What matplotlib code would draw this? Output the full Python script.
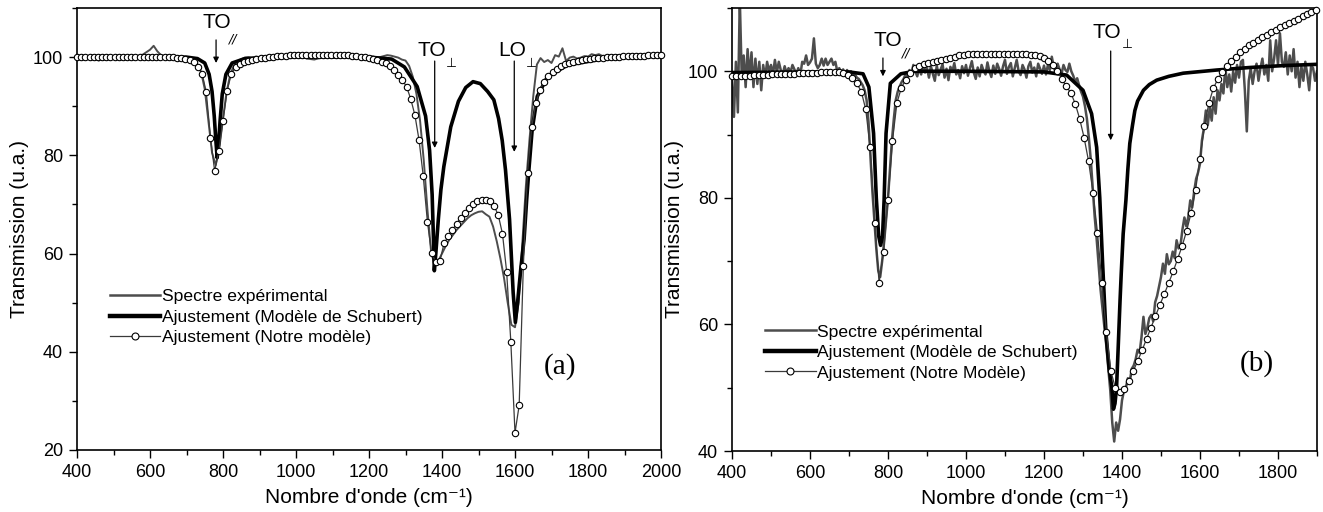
import matplotlib
matplotlib.use("Agg")
import matplotlib.pyplot as plt
import numpy as np
from matplotlib.lines import Line2D
from matplotlib.ticker import MultipleLocator

plt.rcParams["font.family"] = ["Liberation Sans Narrow", "Liberation Sans", "DejaVu Sans"]

# ---------------- panel (a) ----------------
A_EXP_X = np.arange(400, 2001, 10)
A_EXP_Y = [
    100.0, 99.8, 100.1, 99.9, 100.0, 99.6, 99.3, 99.8, 100.1, 99.9,
    100.0, 100.2, 99.9, 100.1, 100.0, 100.2, 99.9, 100.3, 100.5, 101.0,
    101.5, 102.3, 101.2, 100.4, 100.2, 100.0, 100.1, 99.9, 100.0, 99.9,
    99.7, 99.5, 99.2, 98.5, 97.0, 93.5, 87.0, 80.5, 78.0, 81.5,
    87.5, 93.0, 96.5, 98.3, 99.2, 99.6, 99.9, 100.0, 99.9, 100.1,
    100.0, 100.2, 99.9, 100.1, 100.3, 100.0, 99.8, 100.2, 100.1, 100.3,
    100.0, 99.8, 100.1, 99.7, 99.6, 99.5, 99.7, 100.1, 100.4, 100.6,
    100.5, 100.8, 100.4, 100.3, 100.2, 100.1, 100.0, 100.2, 100.1, 100.0,
    100.0, 100.1, 99.9, 100.0, 100.2, 100.4, 100.3, 100.1, 99.9, 99.5,
    99.3, 98.2, 96.0, 92.5, 87.0, 79.0, 69.0, 60.5, 57.5, 58.5,
    60.0, 61.5, 62.8, 63.8, 64.8, 65.6, 66.4, 67.2, 67.8, 68.2,
    68.5, 68.6, 68.0, 67.5, 65.5, 62.5, 59.0, 55.0, 50.0, 45.5,
    45.0, 50.0, 62.0, 74.0, 83.5, 92.0, 98.5, 99.8, 99.0, 99.4,
    98.8, 100.4, 100.1, 101.8, 99.2, 99.9, 100.1, 99.7, 99.9, 100.2,
    100.1, 100.6, 100.4, 100.6, 100.2, 100.2, 100.3, 100.3, 100.4, 100.4,
    100.4, 100.4, 100.4, 100.5, 100.5, 100.5, 100.5, 100.5, 100.5, 100.5, 100.5,
]

A_SCH_X = [400, 700, 730, 750, 762, 770, 776, 780, 784, 788, 792, 798, 808, 825,
           860, 1000, 1200, 1262, 1297, 1332, 1355, 1366, 1373, 1377, 1379, 1383,
           1390, 1397, 1405, 1424, 1445, 1465, 1485, 1505, 1525, 1542, 1555, 1565,
           1574, 1585, 1595, 1601, 1607, 1616, 1625, 1632, 1638, 1647, 1661, 1689,
           1744, 1854, 2000]
A_SCH_Y = [100.0, 100.0, 99.7, 98.8, 96.5, 93.0, 88.0, 83.5, 79.5, 82.5, 87.0, 92.5,
           96.5, 98.8, 99.7, 100.0, 100.0, 99.6, 98.0, 94.0, 88.0, 81.0, 72.0, 62.0,
           56.5, 60.0, 67.0, 73.0, 77.7, 85.8, 91.0, 93.8, 95.0, 94.6, 93.0, 91.3,
           87.5, 83.0, 77.0, 67.0, 52.0, 46.0, 50.0, 57.0, 63.0, 71.0, 77.0, 85.2,
           92.0, 96.0, 98.4, 99.8, 100.2]

# model sampled on 141 points between 400 and 2000
A_MOD_X = np.linspace(400, 2000, 141)
A_MOD_Y = [
    100.0, 100.0, 100.0, 100.0, 100.0, 100.0, 100.0, 100.0, 100.0, 100.0,
    100.0, 100.0, 100.0, 100.0, 100.0, 100.0, 100.0, 100.0, 100.0, 100.0,
    100.0, 100.0, 100.0, 99.95, 99.9, 99.8, 99.7, 99.4, 99.0, 97.9,
    96.6, 92.8, 83.6, 76.8, 80.9, 87.0, 93.2, 96.6, 97.9, 98.6,
    99.0, 99.3, 99.5, 99.7, 99.8, 99.9, 100.0, 100.1, 100.2, 100.25,
    100.3, 100.35, 100.4, 100.4, 100.45, 100.45, 100.5, 100.5, 100.5, 100.5,
    100.5, 100.5, 100.5, 100.45, 100.4, 100.35, 100.3, 100.2, 100.1, 100.0,
    99.8, 99.6, 99.4, 99.1, 98.7, 98.2, 97.4, 96.4, 95.3, 94.0,
    91.5, 88.2, 83.1, 75.8, 66.5, 60.1, 58.3, 58.5, 62.1, 63.5,
    64.8, 66.1, 67.2, 68.2, 69.2, 70.1, 70.7, 71.0, 71.0, 70.6,
    69.7, 67.8, 64.0, 56.3, 42.0, 23.5, 29.1, 57.5, 76.5, 85.8,
    90.7, 93.4, 95.0, 96.2, 97.0, 97.6, 98.1, 98.5, 98.8, 99.1,
    99.3, 99.45, 99.6, 99.7, 99.8, 99.85, 99.9, 99.95, 100.0, 100.05,
    100.1, 100.15, 100.2, 100.2, 100.25, 100.3, 100.3, 100.35, 100.35, 100.4,
    100.4,
]

# ---------------- panel (b) ----------------
B_EXP_X = np.arange(400, 1901, 5)
B_EXP_Y = [
    99.0, 92.8, 101.5, 93.5, 111.5, 99.0, 102.5, 97.5, 103.5, 99.0,
    103.0, 97.5, 102.0, 98.0, 101.5, 97.0, 101.0, 99.0, 101.5, 100.0,
    101.0, 99.5, 101.8, 99.8, 101.5, 100.2, 99.5, 100.8, 99.7, 100.5,
    99.8, 101.0, 100.3, 99.6, 100.5, 99.3, 101.5, 101.2, 102.5, 101.0,
    101.4, 102.0, 105.2, 101.2, 100.5, 101.0, 102.0, 100.9, 102.0, 101.0,
    101.5, 102.0, 101.0, 101.5, 100.0, 100.5, 99.8, 100.3, 99.6, 100.2,
    99.5, 100.0, 99.3, 99.6, 99.0, 98.8, 98.3, 97.8, 97.0, 95.5,
    92.0, 86.5, 81.0, 76.5, 72.0, 68.5, 67.5, 70.0, 73.0, 76.5,
    80.0, 84.5, 89.0, 92.5, 95.5, 96.8, 97.6, 98.3, 98.8, 99.5,
    98.7, 100.2, 99.5, 101.0, 100.0, 99.2, 100.6, 99.5, 101.2, 99.8,
    100.5, 99.0, 100.8, 99.6, 98.5, 100.9, 99.4, 100.3, 101.1, 99.0,
    100.4, 98.6, 100.7, 99.9, 101.3, 99.5, 100.2, 98.9, 100.8, 99.7,
    101.0, 99.3, 100.5, 101.6, 99.8, 98.8, 100.6, 99.2, 101.0, 100.1,
    99.5, 101.4, 100.0, 99.1, 100.9, 99.6, 101.2, 100.4, 99.3, 100.8,
    101.8, 99.6, 100.7, 101.3, 99.2, 100.5, 101.8, 100.0, 99.4, 101.0,
    100.3, 99.0, 100.8, 101.5, 99.8, 100.6, 99.2, 101.2, 100.4, 99.6,
    100.9, 99.5, 101.0, 100.2, 102.3, 100.7, 99.8, 101.2, 100.3, 99.6,
    101.0, 100.2, 99.9, 101.2, 100.0, 99.3, 98.3, 98.9, 97.8, 96.8,
    96.0, 94.5, 92.5, 89.5, 86.0, 81.5, 77.0, 73.5, 69.5, 65.5,
    62.5, 59.5, 56.5, 53.0, 49.5, 44.5, 41.5, 44.5, 43.2, 45.0,
    48.0, 49.5, 50.0, 51.5, 51.0, 53.0, 53.5, 54.5, 56.0, 55.5,
    58.0, 61.2, 58.5, 59.5, 61.0, 61.5, 60.5, 63.5, 64.5, 66.0,
    67.5, 69.6, 68.0, 71.1, 69.5, 70.0, 71.5, 70.5, 73.3, 72.0,
    72.5, 75.0, 76.9, 75.5, 77.0, 79.6, 78.5, 81.0, 83.0, 84.0,
    85.4, 89.1, 91.0, 93.8, 91.5, 94.3, 92.2, 95.9, 93.3, 97.0,
    95.4, 98.0, 96.5, 100.7, 97.5, 99.5, 96.8, 100.0, 98.2, 101.0,
    99.0, 101.5, 101.8, 97.0, 90.5, 98.5, 100.5, 98.0, 100.0, 101.2,
    98.5, 100.5, 102.0, 99.5, 101.0, 98.5, 104.9, 100.0, 102.0, 104.9,
    101.0, 106.0, 101.5, 100.7, 103.0, 99.5, 102.5, 100.0, 103.5, 99.0,
    101.5, 97.5, 100.8, 98.5, 101.5, 99.5, 97.0, 101.0, 100.5, 98.5, 100.0,
]

B_SCH_X = [400, 600, 700, 736, 751, 763, 770, 776, 781, 786, 790, 795, 806, 833,
           866, 1000, 1200, 1258, 1300, 1322, 1335, 1343, 1350, 1359, 1367, 1374,
           1378, 1382, 1386, 1390, 1395, 1398, 1403, 1410, 1415, 1420, 1427, 1433,
           1440, 1455, 1470, 1489, 1520, 1557, 1643, 1728, 1814, 1900]
B_SCH_Y = [99.8, 99.9, 99.9, 99.6, 97.5, 90.2, 80.0, 74.0, 72.5, 74.0, 79.6, 90.2,
           98.1, 99.6, 100.0, 100.0, 99.9, 99.4, 97.0, 93.3, 88.0, 80.0, 70.0, 58.5,
           53.0, 50.0, 46.6, 47.5, 50.0, 56.0, 63.8, 68.0, 74.3, 79.6, 84.5, 88.6,
           91.5, 93.8, 95.3, 97.0, 97.9, 98.6, 99.2, 99.7, 100.2, 100.6, 100.9, 101.1]

B_MOD_X = np.linspace(400, 2000, 141)[:132]
B_MOD_Y = [
    99.2, 99.2, 99.25, 99.3, 99.3, 99.35, 99.4, 99.4, 99.45, 99.5,
    99.5, 99.55, 99.6, 99.6, 99.65, 99.7, 99.7, 99.75, 99.8, 99.8,
    99.85, 99.85, 99.9, 99.9, 99.85, 99.7, 99.4, 98.9, 98.1, 96.8,
    94.0, 88.0, 76.0, 66.6, 71.5, 79.6, 89.0, 95.0, 97.4, 98.7,
    99.7, 100.5, 100.9, 101.1, 101.3, 101.5, 101.7, 101.8, 101.9, 102.1,
    102.3, 102.5, 102.6, 102.7, 102.8, 102.8, 102.8, 102.8, 102.8, 102.8,
    102.8, 102.8, 102.8, 102.8, 102.8, 102.75, 102.7, 102.6, 102.5, 102.4,
    102.1, 101.7, 101.0, 100.0, 98.8, 97.6, 96.6, 94.9, 92.5, 89.5,
    85.8, 80.8, 74.5, 66.5, 58.8, 52.6, 50.0, 49.3, 49.8, 51.0,
    52.6, 54.2, 55.9, 57.7, 59.5, 61.3, 63.1, 64.8, 66.6, 68.4,
    70.4, 72.4, 74.8, 77.6, 81.2, 86.2, 91.3, 95.0, 97.3, 98.8,
    99.9, 100.8, 101.6, 102.3, 103.0, 103.6, 104.1, 104.5, 105.0, 105.4,
    105.8, 106.2, 106.6, 107.0, 107.3, 107.6, 108.0, 108.3, 108.7, 109.0,
    109.4, 109.7,
]

EXP_COLOR = "#4d4d4d"
MOD_COLOR = "#3a3a3a"
XLABEL = "Nombre d'onde (cm\u207b\u00b9)"


def draw_panel(ax, exp_x, exp_y, sch_x, sch_y, mod_x, mod_y, exp_lw):
    ax.plot(exp_x, exp_y, color=EXP_COLOR, lw=exp_lw, zorder=2)
    ax.plot(sch_x, sch_y, color="black", lw=2.6, zorder=3)
    ax.plot(mod_x, mod_y, color=MOD_COLOR, lw=0.9, marker="o", ms=4.6,
            mfc="white", mec="black", mew=0.8, zorder=4, clip_on=False)
    for s in ax.spines.values():
        s.set_linewidth(1.2)
    ax.tick_params(which="both", direction="out", labelsize=13, width=1.0, pad=4)
    ax.tick_params(which="major", length=6)
    ax.tick_params(which="minor", length=3.5)
    ax.set_xlabel(XLABEL, fontsize=15, labelpad=5)
    ax.set_ylabel("Transmission (u.a.)", fontsize=15, labelpad=3)


def label(ax, main, sub, x, y, xs, ys, xa, ya0, ya1):
    ax.text(x, y, main, ha="center", va="center", fontsize=15)
    ax.text(xs, ys, sub, ha="center", va="center", fontsize=9,
            family=["DejaVu Sans"], style="italic" if sub == "//" else "normal")
    ax.annotate("", xy=(xa, ya1), xytext=(xa, ya0),
                arrowprops=dict(arrowstyle="-|>", color="black", lw=0.9,
                                mutation_scale=8, shrinkA=0, shrinkB=0))


def legend(ax, labels, anchor):
    handles = [
        Line2D([], [], color=EXP_COLOR, lw=1.8),
        Line2D([], [], color="black", lw=3.2),
        Line2D([], [], color=MOD_COLOR, lw=0.9, marker="o", ms=5,
               mfc="white", mec="black", mew=0.8),
    ]
    ax.legend(handles, labels, loc="upper left", bbox_to_anchor=anchor,
              frameon=False, fontsize=12.6, handlelength=2.9, handletextpad=0.1,
              labelspacing=0.3, borderaxespad=0, borderpad=0, markerscale=1,
              numpoints=1)


fig = plt.figure(figsize=(13.23, 5.12), dpi=100)
ax1 = fig.add_axes([77 / 1323, 62 / 512, 584 / 1323, 442 / 512])
ax2 = fig.add_axes([732 / 1323, 61 / 512, 585 / 1323, 443 / 512])

draw_panel(ax1, A_EXP_X, A_EXP_Y, A_SCH_X, A_SCH_Y, A_MOD_X, A_MOD_Y, 1.4)
ax1.set_xlim(400, 2000)
ax1.set_ylim(20, 110)
ax1.xaxis.set_major_locator(MultipleLocator(200))
ax1.xaxis.set_minor_locator(MultipleLocator(100))
ax1.yaxis.set_major_locator(MultipleLocator(20))
ax1.yaxis.set_minor_locator(MultipleLocator(10))
label(ax1, "TO", "//", 782, 107.1, 828, 103.6, 781, 103.5, 98.8)
label(ax1, "TO", "\u22a5", 1372, 101.4, 1425, 98.8, 1380, 99.2, 81.5)
label(ax1, "LO", "\u22a5", 1591, 101.4, 1646, 98.8, 1598, 99.2, 80.7)
ax1.text(1723, 37, "(a)", ha="center", va="center", fontsize=21,
         family=["Liberation Serif"])
legend(ax1, ["Spectre expérimental", "Ajustement (Modèle de Schubert)",
             "Ajustement (Notre modèle)"], (0.056, 0.364))

draw_panel(ax2, B_EXP_X, B_EXP_Y, B_SCH_X, B_SCH_Y, B_MOD_X, B_MOD_Y, 1.8)
ax2.set_xlim(400, 1900)
ax2.set_ylim(40, 110)
ax2.xaxis.set_major_locator(MultipleLocator(200))
ax2.xaxis.set_minor_locator(MultipleLocator(100))
ax2.yaxis.set_major_locator(MultipleLocator(20))
ax2.yaxis.set_minor_locator(MultipleLocator(10))
label(ax2, "TO", "//", 800, 104.9, 846, 102.9, 787, 102.1, 99.2)
label(ax2, "TO", "\u22a5", 1362, 106.2, 1413, 104.2, 1371, 103.2, 89.1)
ax2.text(1746, 53.8, "(b)", ha="center", va="center", fontsize=21,
         family=["Liberation Serif"])
legend(ax2, ["Spectre expérimental", "Ajustement (Modèle de Schubert)",
             "Ajustement (Notre Modèle)"], (0.056, 0.286))

fig.savefig("out.png", dpi=100, facecolor="white")
